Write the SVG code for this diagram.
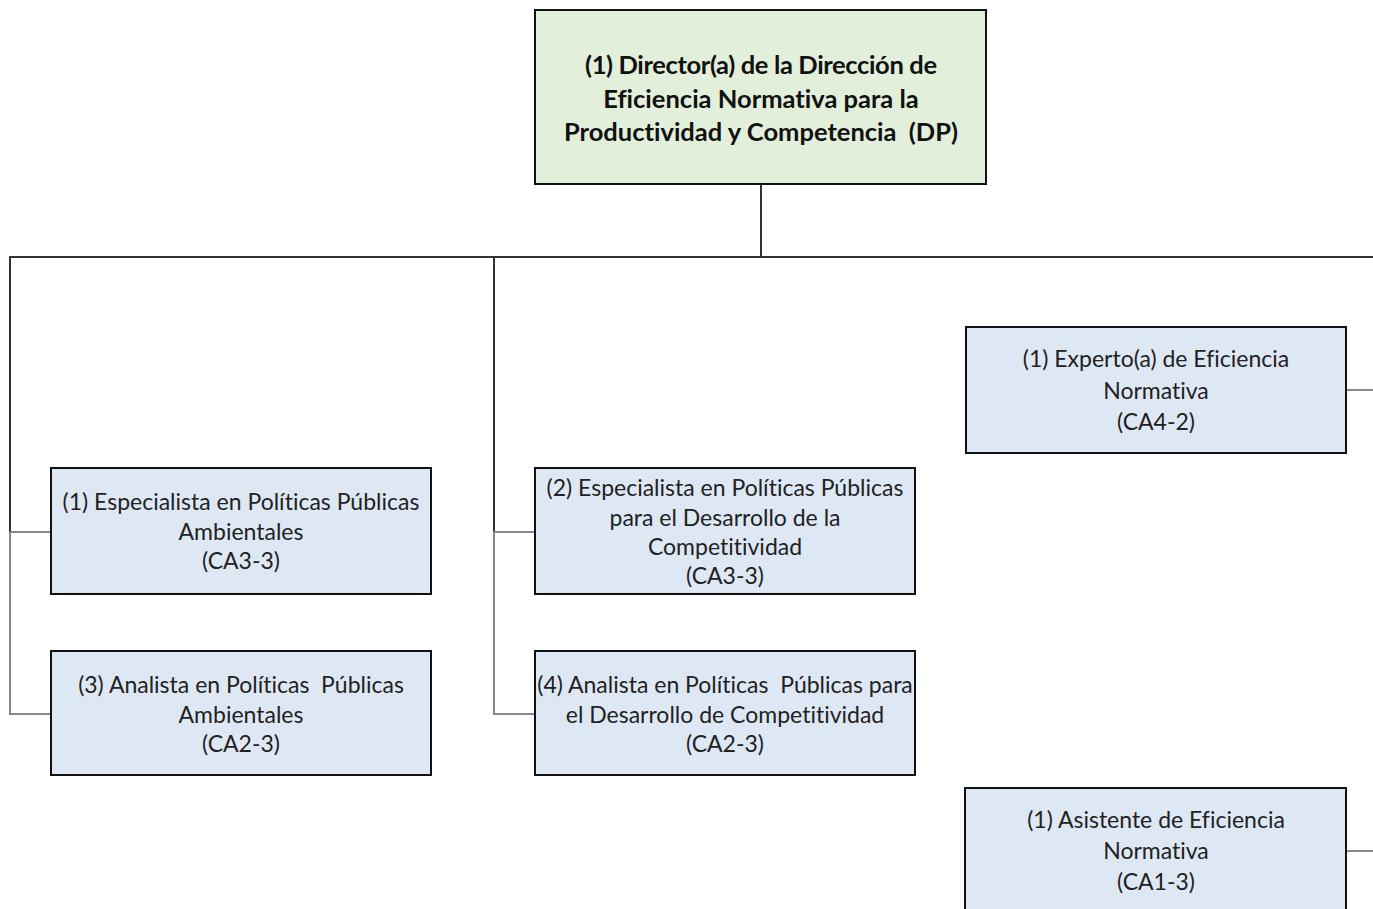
<svg xmlns="http://www.w3.org/2000/svg" width="1373" height="909" viewBox="0 0 1373 909">
<style>
.box{fill:#dee8f5;stroke:#111;stroke-width:2}
.top{fill:#e2efda;stroke:#111;stroke-width:2}
.t{font-family:Lato,"Liberation Sans",sans-serif;font-size:23px;fill:#222;text-anchor:middle;font-variant-ligatures:none;white-space:pre}
.tb{font-family:Lato,"Liberation Sans",sans-serif;font-size:25.5px;font-weight:bold;fill:#111;text-anchor:middle;font-variant-ligatures:none;white-space:pre}
.dk{stroke:#333;stroke-width:2;fill:none}
.gr{stroke:#888;stroke-width:2;fill:none}
</style>
<rect width="1373" height="909" fill="#fff"/>
<g id="connectors">
<line class="dk" x1="761" y1="184" x2="761" y2="257"/>
<line class="dk" x1="10" y1="257" x2="1373" y2="257"/>
<line class="dk" x1="10" y1="256" x2="10" y2="532"/>
<line class="gr" x1="10" y1="532" x2="10" y2="715"/>
<line class="gr" x1="10" y1="532" x2="51" y2="532"/>
<line class="gr" x1="10" y1="714" x2="51" y2="714"/>
<line class="dk" x1="494" y1="257" x2="494" y2="532"/>
<line class="gr" x1="494" y1="532" x2="494" y2="715"/>
<line class="gr" x1="494" y1="532" x2="535" y2="532"/>
<line class="gr" x1="494" y1="714" x2="535" y2="714"/>
<line class="gr" x1="1346" y1="390" x2="1373" y2="390"/>
<line class="gr" x1="1346" y1="851" x2="1373" y2="851"/>
</g>
<g id="director">
<rect class="top" x="535" y="10" width="451" height="174"/>
<text class="tb" x="761" y="74" textLength="352" lengthAdjust="spacing">(1) Director(a) de la Dirección de</text>
<text class="tb" x="761" y="108">Eficiencia Normativa para la</text>
<text class="tb" x="761" y="141">Productividad y Competencia  (DP)</text>
</g>
<g id="esp-amb">
<rect class="box" x="51" y="468" width="380" height="126"/>
<text class="t" x="241" y="510">(1) Especialista en Políticas Públicas</text>
<text class="t" x="241" y="540">Ambientales</text>
<text class="t" x="241" y="569">(CA3-3)</text>
</g>
<g id="ana-amb">
<rect class="box" x="51" y="651" width="380" height="124"/>
<text class="t" x="241" y="693">(3) Analista en Políticas  Públicas</text>
<text class="t" x="241" y="723">Ambientales</text>
<text class="t" x="241" y="752">(CA2-3)</text>
</g>
<g id="esp-comp">
<rect class="box" x="535" y="468" width="380" height="126"/>
<text class="t" x="725" y="496">(2) Especialista en Políticas Públicas</text>
<text class="t" x="725" y="526">para el Desarrollo de la</text>
<text class="t" x="725" y="555">Competitividad</text>
<text class="t" x="725" y="584">(CA3-3)</text>
</g>
<g id="ana-comp">
<rect class="box" x="535" y="651" width="380" height="124"/>
<text class="t" x="725" y="693">(4) Analista en Políticas  Públicas para</text>
<text class="t" x="725" y="723">el Desarrollo de Competitividad</text>
<text class="t" x="725" y="752">(CA2-3)</text>
</g>
<g id="experto">
<rect class="box" x="966" y="327" width="380" height="126"/>
<text class="t" x="1156" y="367">(1) Experto(a) de Eficiencia</text>
<text class="t" x="1156" y="399">Normativa</text>
<text class="t" x="1156" y="430">(CA4-2)</text>
</g>
<g id="asistente">
<rect class="box" x="965" y="788" width="381" height="140"/>
<text class="t" x="1156" y="828">(1) Asistente de Eficiencia</text>
<text class="t" x="1156" y="859">Normativa</text>
<text class="t" x="1156" y="890">(CA1-3)</text>
</g>
</svg>
